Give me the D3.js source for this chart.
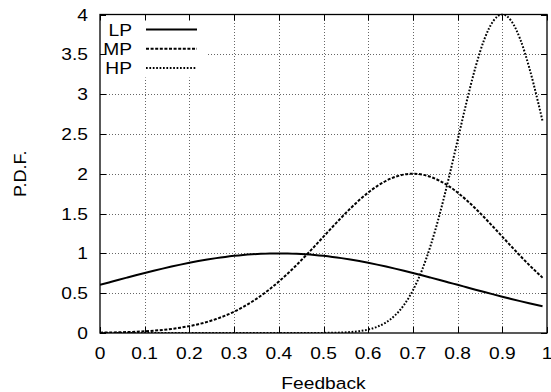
<!DOCTYPE html>
<html>
<head>
<meta charset="utf-8">
<script src="https://cdn.jsdelivr.net/npm/d3@7"></script>
<style>
  html, body { margin: 0; padding: 0; background: #fff; }
  text { font-family: 'Liberation Sans', Arial, Helvetica, sans-serif; fill: #000; }
</style>
</head>
<body>
<div id="chart"></div>
<script>
// sample positions (feedback) and the three pdf curves
const FEEDBACK = [0, 0.02, 0.04, 0.06, 0.08, 0.10, 0.12, 0.14, 0.16, 0.18, 0.20, 0.22, 0.24, 0.26, 0.28, 0.30, 0.32, 0.34, 0.36, 0.38,
  0.40, 0.42, 0.44, 0.46, 0.48, 0.50, 0.52, 0.54, 0.56, 0.58, 0.60, 0.62, 0.64, 0.66, 0.68, 0.70, 0.72, 0.74, 0.76, 0.78,
  0.80, 0.82, 0.84, 0.86, 0.88, 0.90, 0.92, 0.94, 0.96, 0.98, 0.99];
const LP = [0.6049, 0.6353, 0.6656, 0.6954, 0.7249, 0.7537, 0.7817, 0.8087, 0.8345, 0.8589, 0.8819, 0.9032, 0.9227, 0.9403, 0.9558, 0.9691, 0.9801, 0.9888, 0.9950, 0.9987,
  1.0000, 0.9987, 0.9950, 0.9888, 0.9801, 0.9691, 0.9558, 0.9403, 0.9227, 0.9032, 0.8819, 0.8589, 0.8345, 0.8087, 0.7817, 0.7537, 0.7249, 0.6954, 0.6656, 0.6353,
  0.6049, 0.5746, 0.5443, 0.5144, 0.4849, 0.4559, 0.4276, 0.4001, 0.3734, 0.3476, 0.3350];
const MP = [0.0042, 0.0060, 0.0084, 0.0116, 0.0160, 0.0217, 0.0292, 0.0389, 0.0512, 0.0669, 0.0864, 0.1106, 0.1400, 0.1756, 0.2179, 0.2678, 0.3258, 0.3924, 0.4679, 0.5523,
  0.6454, 0.7467, 0.8553, 0.9698, 1.0886, 1.2098, 1.3311, 1.4498, 1.5634, 1.6689, 1.7638, 1.8455, 1.9115, 1.9602, 1.9900, 2.0000, 1.9900, 1.9602, 1.9115, 1.8455,
  1.7638, 1.6689, 1.5634, 1.4498, 1.3311, 1.2098, 1.0886, 0.9698, 0.8553, 0.7467, 0.6951];
const HP = [0, 0, 0, 0, 0, 0, 0, 0, 0, 0, 0, 0, 0, 0, 0, 0, 0, 0, 0, 0,
  0, 0, 0.0001, 0.0002, 0.0006, 0.0013, 0.0028, 0.0059, 0.0120, 0.0233, 0.0434, 0.0777, 0.1338, 0.2211, 0.3512, 0.5356, 0.7848, 1.1046, 1.4934, 1.9396,
  2.4196, 2.8996, 3.3379, 3.6909, 3.9204, 4.0000, 3.9204, 3.6909, 3.3379, 2.8996, 2.6621];
const SERIES = ['LP', 'MP', 'HP'];
const X_TICKS = [0, 0.1, 0.2, 0.3, 0.4, 0.5, 0.6, 0.7, 0.8, 0.9, 1];
const Y_TICKS = [0, 0.5, 1, 1.5, 2, 2.5, 3, 3.5, 4];

const W = 551, H = 392, M = { t: 14.5, r: 4, b: 59, l: 100 };
const svg = d3.select('#chart').append('svg').attr('width', W).attr('height', H);

const x = d3.scaleLinear().domain([0, 1]).range([M.l, W - M.r]);
const y = d3.scaleLinear().domain([0, 4]).range([H - M.b, M.t]);
const fmt = d => String(d);
const textStretch = 'scale(1.13,1)';

// grid
const grid = svg.append('g').attr('stroke', '#666').attr('stroke-width', 1).attr('stroke-dasharray', '1,2');
grid.selectAll('.gx').data(X_TICKS.slice(1, -1)).enter().append('line')
  .attr('x1', d => Math.round(x(d)) + 0.5).attr('x2', d => Math.round(x(d)) + 0.5).attr('y1', y(0)).attr('y2', y(4));
grid.selectAll('.gy').data(Y_TICKS.slice(1, -1)).enter().append('line')
  .attr('y1', d => Math.round(y(d)) + 0.5).attr('y2', d => Math.round(y(d)) + 0.5).attr('x1', x(0)).attr('x2', x(1));

// legend background hides grid
svg.append('rect').attr('x', x(0) + 1).attr('y', y(4) + 1).attr('width', 105).attr('height', 62).attr('fill', '#fff');

// ticks on all four sides, pointing inward
const tk = svg.append('g').attr('stroke', '#000').attr('stroke-width', 1);
X_TICKS.forEach(v => {
  const px = Math.round(x(v)) + 0.5;
  tk.append('line').attr('x1', px).attr('x2', px).attr('y1', y(0)).attr('y2', y(0) - 6);
  tk.append('line').attr('x1', px).attr('x2', px).attr('y1', y(4)).attr('y2', y(4) + 6);
});
Y_TICKS.forEach(v => {
  const py = Math.round(y(v)) + 0.5;
  tk.append('line').attr('y1', py).attr('y2', py).attr('x1', x(0)).attr('x2', x(0) + 6);
  tk.append('line').attr('y1', py).attr('y2', py).attr('x1', x(1)).attr('x2', x(1) - 6);
});

// curves
svg.append('clipPath').attr('id', 'clip').append('rect')
  .attr('x', x(0)).attr('y', y(4) - 1).attr('width', x(1) - x(0)).attr('height', y(0) - y(4) + 1);
const styles = {
  LP: { dash: null },
  MP: { dash: '3,1.6' },
  HP: { dash: '1.7,1.7' }
};
const seriesData = { LP, MP, HP };
const line = d3.line().x((d, i) => x(FEEDBACK[i])).y(d => y(d)).curve(d3.curveMonotoneX);
const gCurves = svg.append('g').attr('clip-path', 'url(#clip)').attr('fill', 'none').attr('stroke', '#000').attr('stroke-width', 2);
SERIES.forEach(s => {
  gCurves.append('path').attr('d', line(seriesData[s])).attr('stroke-dasharray', styles[s].dash);
});

// border
svg.append('rect').attr('x', x(0)).attr('y', y(4)).attr('width', x(1) - x(0)).attr('height', y(0) - y(4))
  .attr('fill', 'none').attr('stroke', '#000').attr('stroke-width', 1.3);

// tick labels
svg.append('g').selectAll('text').data(X_TICKS).enter().append('text')
  .attr('transform', d => `translate(${x(d)},${y(0) + 25.5}) ${textStretch}`)
  .attr('text-anchor', 'middle').style('font-size', '17px').text(fmt);
svg.append('g').selectAll('text').data(Y_TICKS).enter().append('text')
  .attr('transform', d => `translate(${x(0) - 12},${y(d) + 6}) ${textStretch}`)
  .attr('text-anchor', 'end').style('font-size', '17px').text(fmt);

// axis titles
svg.append('text').attr('transform', `translate(${(x(0) + x(1)) / 2},${H - 3.5}) ${textStretch}`)
  .attr('text-anchor', 'middle').style('font-size', '17px').text('Feedback');
svg.append('text').attr('transform', `translate(25.5,${(y(0) + y(4)) / 2}) rotate(-90) scale(1.06,1)`)
  .attr('text-anchor', 'middle').style('font-size', '17px').text('P.D.F.');

// legend
const leg = svg.append('g');
SERIES.forEach((s, i) => {
  const ly = 29.5 + i * 19.3;
  leg.append('text').attr('transform', `translate(132,${ly + 6}) ${textStretch}`)
    .attr('text-anchor', 'end').style('font-size', '17px').text(s);
  leg.append('line').attr('x1', 146).attr('x2', 197).attr('y1', ly).attr('y2', ly)
    .attr('stroke', '#000').attr('stroke-width', 2).attr('stroke-dasharray', styles[s].dash);
});
</script>
</body>
</html>
